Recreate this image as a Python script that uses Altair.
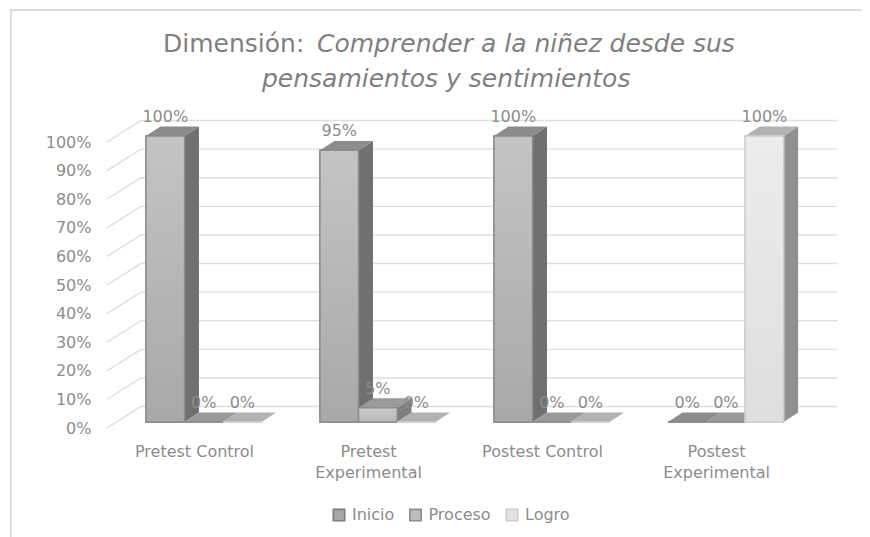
import altair as alt
import pandas as pd

categories = ["Pretest Control", "Pretest Experimental", "Postest Control", "Postest Experimental"]
series = ["Inicio", "Proceso", "Logro"]
inicio = [100, 95, 100, 0]
proceso = [0, 5, 0, 0]
logro = [0, 0, 0, 100]
values = {"Inicio": inicio, "Proceso": proceso, "Logro": logro}
y_ticks = list(range(0, 101, 10))

front_top = {"Inicio": "#c4c4c4", "Proceso": "#cacaca", "Logro": "#ececec"}
front_bottom = {"Inicio": "#a8a8a8", "Proceso": "#b8b8b8", "Logro": "#dedede"}
edge = {"Inicio": "#8c8c8c", "Proceso": "#8e8e8e", "Logro": "#cccccc"}
side_col = {"Inicio": "#707070", "Proceso": "#7e7e7e", "Logro": "#909090"}
top_col = {"Inicio": "#8c8c8c", "Proceso": "#9a9a9a", "Logro": "#b2b2b2"}
legend_fill = ["#a6a6a6", "#bdbdbd", "#e2e2e2"]
legend_edge = ["#7c7c7c", "#8e8e8e", "#cccccc"]

TEXT = "#8c8c8c"
GRID = "#dedede"

# projection of the oblique view, in axis units
BAR_START, BAR_W = 0.224, 0.2215
DX0, DY0 = 0.057, 2.1      # front of the bars behind the front plane
DX, DY = 0.083, 3.3        # depth of a bar
WX, WY = 0.195, 7.5        # depth of the back wall
XMAX, YMAX = 4 + WX, 107.7

x_scale = alt.Scale(domain=[0, XMAX], nice=False, zero=False)
y_scale = alt.Scale(domain=[0, YMAX], nice=False, zero=False)
x_axis = alt.Axis(
    values=[0.5, 1.5, 2.5, 3.5], domain=False, ticks=False, grid=False, labelOverlap=False, title=None,
    labelExpr="datum.value < 1 ? 'Pretest Control' : datum.value < 2 ? ['Pretest', 'Experimental'] : "
              "datum.value < 3 ? 'Postest Control' : ['Postest', 'Experimental']",
    labelFont="DejaVu Sans", labelFontSize=16, labelColor=TEXT, labelPadding=15, labelLineHeight=21.5,
    labelBaseline="top")
y_axis = alt.Axis(
    values=y_ticks, domain=False, ticks=False, grid=False, title=None,
    labelExpr="datum.value + '%'", labelFont="DejaVu Sans", labelFontSize=16, labelColor=TEXT, labelPadding=16)
X = lambda f: alt.X(f, type="quantitative", scale=x_scale, axis=x_axis)
Y = lambda f: alt.Y(f, type="quantitative", scale=y_scale, axis=y_axis)

# walls
wall_rows = []
for t in y_ticks:
    wall_rows += [{"t": t, "x": 0, "y": t}, {"t": t, "x": WX, "y": t + WY}, {"t": t, "x": XMAX, "y": t + WY}]
walls = alt.Chart(pd.DataFrame(wall_rows)).mark_line(color=GRID, strokeWidth=1.4).encode(
    x=X("x"), y=Y("y"), detail="t:N", order="x:Q")

layers = [walls]

label_rows = []
for j, s in enumerate(series):
    fronts = []
    shapes = []
    for i, c in enumerate(categories):
        v = values[s][i]
        x0 = i + BAR_START + j * BAR_W
        x1 = x0 + BAR_W
        yb, yt = DY0, v + DY0
        side = [{"x": x1, "ya": yt, "yb": yb}, {"x": x1 + DX, "ya": yt + DY, "yb": yb + DY}]
        top = [{"yy": yt, "xa": x0, "xb": x1}, {"yy": yt + DY, "xa": x0 + DX, "xb": x1 + DX}]
        if v > 0:
            shapes.append(alt.Chart(pd.DataFrame(side)).mark_area(color=side_col[s], opacity=1).encode(
                x=X("x"), y=Y("ya"), y2="yb:Q"))
        shapes.append(alt.Chart(pd.DataFrame(top)).mark_area(color=top_col[s], opacity=1, orient="horizontal").encode(
            y=Y("yy"), x=X("xa"), x2="xb:Q"))
        fronts.append({"s": s, "x": x0, "x2": x1, "y": yt, "y2": yb})
        label_rows.append({"x": (x0 + x1) / 2, "y": yt, "t": f"{v}%"})
    base = alt.Chart(pd.DataFrame(fronts)).mark_rect(strokeWidth=1.4).encode(
        x=X("x"), x2="x2:Q", y=Y("y"), y2="y2:Q",
        fill=alt.Fill("s:N", scale=alt.Scale(domain=series, range=legend_fill), title=None),
        stroke=alt.Stroke("s:N", scale=alt.Scale(domain=series, range=legend_edge), title=None),
    )
    face = alt.Chart(pd.DataFrame(fronts)).mark_rect(
        stroke=edge[s], strokeWidth=1.4,
        fill=alt.Gradient(gradient="linear", x1=0, x2=0, y1=0, y2=1, stops=[
            alt.GradientStop(offset=0, color=front_top[s]), alt.GradientStop(offset=1, color=front_bottom[s])]),
    ).encode(x=X("x"), x2="x2:Q", y=Y("y"), y2="y2:Q")
    layers += shapes + [base, face]

labels = alt.Chart(pd.DataFrame(label_rows)).mark_text(
    font="DejaVu Sans", fontSize=16, color=TEXT, dy=-19).encode(x=X("x"), y=Y("y"), text="t:N")
layers.append(labels)

# title, frame
title_parts = [
    ("Dimensión:", 163, 44, "normal", "left"),
    ("Comprender a la niñez desde sus", 317, 44, "italic", "left"),
    ("pensamientos y sentimientos", 262, 79, "italic", "left"),
]
OX, OY = 107, 120
for txt, px, py, style, al in title_parts:
    layers.append(alt.Chart(pd.DataFrame({"t": [txt]})).mark_text(
        font="DejaVu Sans", fontSize=25, fontStyle=style, color="#7f7f7f", align=al, baseline="middle",
    ).encode(x=alt.value(px - OX), y=alt.value(py - OY), text="t:N"))
layers.append(alt.Chart(pd.DataFrame({"a": [0]})).mark_rule(color="#dcdcdc", strokeWidth=2).encode(
    x=alt.value(11 - OX), y=alt.value(10 - OY), y2=alt.value(537 - OY)))
layers.append(alt.Chart(pd.DataFrame({"a": [0]})).mark_rule(color="#dcdcdc", strokeWidth=2).encode(
    x=alt.value(10 - OX), x2=alt.value(862 - OX), y=alt.value(10 - OY)))

chart = alt.layer(*layers).resolve_scale(fill="shared", stroke="shared").properties(
    width=730, height=308,
    autosize=alt.AutoSizeParams(type="none"),
    padding={"left": 99, "top": 112, "right": 25, "bottom": 109},
).configure_view(stroke=None).configure_legend(
    orient="none", legendX=224, legendY=387, direction="horizontal",
    symbolType="square", symbolSize=130, symbolStrokeWidth=1.6,
    labelFont="DejaVu Sans", labelFontSize=16, labelColor=TEXT, columnPadding=11.5, labelOffset=5,
)
chart.save("out.html", embed_options={"renderer": "svg", "actions": False})
